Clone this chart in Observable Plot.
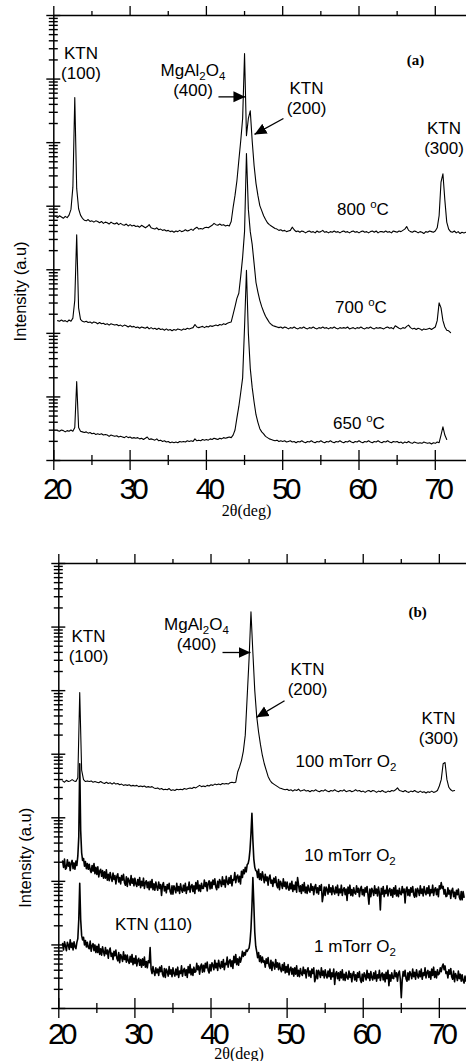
<!DOCTYPE html>
<html><head><meta charset="utf-8">
<script src="https://cdn.jsdelivr.net/npm/d3@7"></script>
<script src="https://cdn.jsdelivr.net/npm/@observablehq/plot@0.6"></script>
<style>
body{margin:0;background:#fff;}
#chart{position:relative;width:466px;height:1061px;overflow:hidden;}
#chart svg{display:block;}
g[aria-label="x-axis tick label"] text{letter-spacing:-4px;}
</style></head><body><div id="chart"></div>
<script>
// ---- scan parameters (2θ steps of the XRD scans) ----
const STEP = 0.25;
const STEP_FINE = 0.125;

// ---- panel (a): log10 intensity ----
const start800 = 20.25;
const logI_800 = [3.84,3.82,3.85,
3.83,3.81,3.84,3.82, 3.86,3.95,4.30,5.71, 4.28,3.96,3.86,3.81, 3.78,3.77,3.79,3.76,
3.77,3.75,3.77,3.76, 3.74,3.76,3.73,3.75, 3.74,3.72,3.75,3.73, 3.72,3.74,3.71,3.73,
3.71,3.70,3.72,3.69, 3.71,3.69,3.70,3.68, 3.69,3.67,3.70,3.68, 3.66,3.68,3.71,3.66,
3.65,3.64,3.66,3.63, 3.64,3.62,3.63,3.61, 3.62,3.60,3.61,3.59, 3.61,3.60,3.62,3.60,
3.61,3.63,3.61,3.62, 3.64,3.62,3.65,3.67, 3.64,3.65,3.64,3.66, 3.67,3.66,3.68,3.70,
3.73,3.71,3.70,3.72, 3.70,3.71,3.69,3.70, 3.69,3.76,3.98,4.17, 4.40,4.72,5.03,5.38,
6.40,5.11,5.38,5.50, 5.03,4.64,4.36,4.17, 4.01,3.93,3.85,3.79, 3.74,3.71,3.69,3.67,
3.65,3.64,3.62,3.63, 3.61,3.62,3.60,3.61, 3.62,3.67,3.63,3.60, 3.61,3.59,3.61,3.60,
3.58,3.60,3.61,3.59, 3.60,3.58,3.61,3.59, 3.60,3.62,3.59,3.60, 3.58,3.60,3.59,3.61,
3.59,3.60,3.58,3.60, 3.61,3.59,3.60,3.58, 3.60,3.61,3.59,3.60, 3.58,3.60,3.61,3.59,
3.60,3.58,3.60,3.61, 3.59,3.61,3.58,3.60, 3.60,3.59,3.61,3.59, 3.60,3.58,3.61,3.60,
3.59,3.61,3.60,3.62, 3.64,3.68,3.62,3.60, 3.59,3.61,3.60,3.58, 3.60,3.59,3.57,3.60,
3.59,3.61,3.60,3.59, 3.61,3.66,3.85,4.38, 4.51,4.10,3.75,3.64, 3.60,3.59,3.61,3.58,
3.60,3.57,3.59,3.58, 3.59];

const start700 = 20.5;
const logI_700 = [2.20,2.19,
2.21,2.19,2.20,2.18, 2.21,2.19,2.24,2.52, 3.55,2.40,2.22,2.19, 2.18,2.19,2.17,2.18,
2.16,2.18,2.17,2.15, 2.17,2.15,2.16,2.14, 2.15,2.13,2.15,2.14, 2.13,2.14,2.12,2.13,
2.11,2.13,2.12,2.10, 2.12,2.10,2.11,2.09, 2.10,2.08,2.10,2.09, 2.08,2.10,2.07,2.09,
2.07,2.08,2.06,2.08, 2.06,2.07,2.05,2.07, 2.05,2.06,2.04,2.06, 2.05,2.07,2.06,2.05,
2.07,2.06,2.08,2.07, 2.08,2.09,2.14,2.10, 2.09,2.10,2.11,2.09, 2.11,2.10,2.12,2.11,
2.12,2.13,2.12,2.14, 2.13,2.15,2.14,2.16, 2.17,2.18,2.30,2.42, 2.55,2.63,2.90,3.20,
3.60,4.83,3.95,3.60, 3.40,3.10,2.80,2.65, 2.52,2.42,2.34,2.27, 2.22,2.17,2.14,2.12,
2.11,2.10,2.09,2.10, 2.08,2.10,2.09,2.07, 2.09,2.08,2.10,2.08, 2.07,2.09,2.08,2.10,
2.08,2.07,2.09,2.08, 2.10,2.08,2.07,2.09, 2.08,2.10,2.08,2.09, 2.07,2.09,2.08,2.10,
2.08,2.07,2.09,2.08, 2.09,2.08,2.10,2.07, 2.08,2.09,2.07,2.09, 2.08,2.10,2.08,2.07,
2.09,2.08,2.10,2.08, 2.07,2.09,2.08,2.09, 2.08,2.07,2.09,2.10, 2.08,2.09,2.07,2.12,
2.10,2.08,2.07,2.09, 2.08,2.11,2.13,2.09, 2.07,2.08,2.06,2.08, 2.07,2.05,2.07,2.06,
2.07,2.08,2.06,2.08, 2.10,2.20,2.48,2.40, 2.20,2.10,2.05,2.04, 2.01];

const start650 = 20.5;
const logI_650 = [0.47,0.46,
0.48,0.47,0.45,0.47, 0.46,0.48,0.46,0.52, 1.24,0.52,0.46,0.45, 0.44,0.45,0.43,0.44,
0.42,0.43,0.41,0.42, 0.41,0.42,0.40,0.41, 0.40,0.38,0.40,0.39, 0.38,0.39,0.37,0.38,
0.37,0.36,0.38,0.36, 0.37,0.35,0.36,0.35, 0.36,0.34,0.35,0.33, 0.35,0.37,0.33,0.34,
0.33,0.32,0.34,0.31, 0.32,0.30,0.31,0.29, 0.30,0.28,0.29,0.28, 0.29,0.28,0.30,0.29,
0.30,0.29,0.31,0.30, 0.31,0.30,0.34,0.31, 0.32,0.31,0.33,0.32, 0.33,0.32,0.34,0.33,
0.35,0.34,0.33,0.35, 0.34,0.36,0.35,0.36, 0.37,0.36,0.40,0.48, 0.67,0.85,1.07,1.30,
2.10,2.99,2.00,1.45, 1.15,0.92,0.72,0.60, 0.50,0.45,0.42,0.38, 0.36,0.34,0.33,0.32,
0.31,0.32,0.30,0.31, 0.30,0.31,0.29,0.30, 0.31,0.29,0.30,0.28, 0.30,0.29,0.31,0.29,
0.28,0.30,0.29,0.31, 0.29,0.28,0.30,0.29, 0.31,0.29,0.28,0.30, 0.29,0.31,0.29,0.28,
0.30,0.29,0.31,0.29, 0.28,0.30,0.29,0.31, 0.29,0.28,0.30,0.29, 0.31,0.29,0.28,0.30,
0.29,0.31,0.29,0.28, 0.30,0.29,0.31,0.29, 0.28,0.30,0.29,0.31, 0.29,0.28,0.30,0.29,
0.30,0.28,0.29,0.27, 0.29,0.28,0.30,0.28, 0.27,0.29,0.28,0.27, 0.28,0.27,0.29,0.28,
0.27,0.28,0.26,0.28, 0.27,0.29,0.28,0.40, 0.53,0.40,0.33];

// ---- panel (b) ----
const start100m = 20.5;
const logI_100m = [3.58,3.56,
3.59,3.57,3.58,3.60, 3.58,3.57,3.63,4.97, 3.75,3.60,3.57,3.58, 3.57,3.58,3.56,3.57,
3.56,3.55,3.57,3.55, 3.54,3.56,3.54,3.55, 3.53,3.55,3.53,3.54, 3.52,3.53,3.51,3.52,
3.51,3.52,3.50,3.51, 3.50,3.51,3.49,3.50, 3.49,3.50,3.48,3.49, 3.48,3.49,3.47,3.46,
3.47,3.45,3.46,3.44, 3.45,3.44,3.46,3.43, 3.44,3.43,3.45,3.44, 3.45,3.44,3.46,3.45,
3.46,3.47,3.46,3.48, 3.47,3.49,3.51,3.49, 3.50,3.49,3.51,3.50, 3.52,3.51,3.53,3.52,
3.53,3.52,3.54,3.53, 3.54,3.53,3.55,3.56, 3.55,3.56,3.72,3.80, 3.90,4.05,4.30,4.90,
5.50,6.24,5.60,5.00, 4.60,4.35,4.15,3.98, 3.85,3.75,3.65,3.59, 3.55,3.53,3.51,3.49,
3.47,3.46,3.45,3.44, 3.45,3.43,3.44,3.42, 3.44,3.43,3.45,3.42, 3.43,3.44,3.42,3.43,
3.41,3.43,3.42,3.44, 3.42,3.41,3.43,3.42, 3.44,3.42,3.41,3.43, 3.42,3.44,3.42,3.41,
3.43,3.42,3.44,3.41, 3.42,3.43,3.41,3.42, 3.44,3.42,3.43,3.41, 3.42,3.40,3.42,3.43,
3.41,3.43,3.42,3.40, 3.42,3.41,3.43,3.41, 3.40,3.42,3.41,3.43, 3.42,3.44,3.47,3.43,
3.42,3.41,3.43,3.41, 3.40,3.42,3.41,3.43, 3.41,3.40,3.42,3.40, 3.41,3.39,3.41,3.40,
3.42,3.40,3.41,3.43, 3.50,3.60,3.85,3.87, 3.60,3.48,3.44,3.42, 3.43];

// 10 mTorr and 1 mTorr scans: noisy, read at the finer step
const start10m = 20.5;
const logI_10m = [2.32,2.22,2.35,2.19,
2.21,2.34,2.24,2.30,2.17,2.29,2.33,2.20, 2.29,2.19,2.32,2.25,2.40,2.70,3.85,2.80,
2.45,2.33,2.36,2.24,2.31,2.20,2.28,2.19, 2.27,2.18,2.14,2.25,2.16,2.28,2.12,2.22,
2.11,2.23,2.07,2.16,2.19,2.08,2.17,2.05, 2.15,2.05,2.18,2.02,2.11,2.01,2.14,2.06,
2.00,2.13,2.03,2.09,1.96,2.08,2.12,1.99, 2.06,1.96,2.09,2.02,2.11,1.98,1.94,2.07,
1.92,2.05,2.01,1.94,2.09,1.97,2.04,1.93, 2.05,1.96,1.92,2.03,1.94,2.06,1.90,2.00,
1.93,2.05,1.89,1.98,2.01,1.90,1.99,1.87, 2.00,1.90,2.03,1.87,1.96,1.86,1.99,1.91,
1.86,1.99,1.89,1.95,1.78,1.94,1.98,1.85, 1.92,1.82,1.95,1.88,1.97,1.84,1.80,1.93,
1.80,1.93,1.89,1.82,1.97,1.85,1.92,1.81, 1.96,1.87,1.83,1.94,1.85,1.97,1.81,1.91,
1.87,1.99,1.83,1.92,1.95,1.84,1.93,1.81, 1.98,1.88,2.01,1.85,1.94,1.84,1.97,1.89,
1.89,2.02,1.92,1.98,1.85,1.97,2.01,1.88, 1.99,1.89,2.02,1.95,2.04,1.91,1.87,2.00,
1.90,2.03,1.99,1.92,2.07,1.95,2.02,1.91, 2.08,1.99,1.95,2.06,1.97,2.09,1.93,2.03,
2.02,2.14,1.98,2.07,2.10,1.99,2.08,1.96, 2.16,2.06,2.18,2.12,2.22,2.15,2.26,2.28,
2.35,2.50,2.75,3.07,2.65,2.35,2.22,2.17, 2.16,2.06,2.19,2.03,2.12,2.02,2.15,2.07,
1.98,2.11,2.01,2.07,1.94,2.06,2.10,1.97, 2.02,1.92,2.05,1.98,2.07,1.94,1.90,2.03,
1.87,2.00,1.96,1.89,2.04,1.92,1.99,1.88, 1.99,1.90,1.86,1.97,1.88,2.00,1.84,1.94,
1.87,1.99,1.83,2.06,1.95,1.84,1.93,1.81, 1.95,1.85,1.98,1.82,1.91,1.81,1.94,1.86,
1.83,1.96,1.86,1.92,1.79,1.91,1.95,1.82, 1.90,1.80,1.93,1.86,1.95,1.68,1.78,1.91,
1.78,1.91,1.87,1.80,1.95,1.83,1.90,1.79, 1.93,1.84,1.80,1.91,1.82,1.94,1.78,1.88,
1.82,1.94,1.78,1.87,1.90,1.79,1.88,1.70, 1.91,1.81,1.94,1.78,1.87,1.77,1.90,1.82,
1.80,1.93,1.83,1.89,1.76,1.88,1.92,1.79, 1.87,1.77,1.90,1.83,1.92,1.79,1.64,1.88,
1.76,1.89,1.85,1.78,1.93,1.81,1.88,1.77, 1.91,1.82,1.55,1.89,1.80,1.92,1.76,1.86,
1.81,1.93,1.77,1.86,1.89,1.78,1.87,1.75, 1.90,1.80,1.93,1.77,1.86,1.76,1.89,1.81,
1.79,1.92,1.82,1.88,1.66,1.87,1.91,1.78, 1.87,1.77,1.90,1.83,1.92,1.79,1.75,1.88,
1.76,1.89,1.85,1.78,1.93,1.81,1.88,1.77, 1.92,1.83,1.79,1.90,1.81,1.93,1.77,1.87,
1.82,1.94,1.78,1.87,1.90,1.79,1.88,1.76, 1.93,1.88,1.98,1.89,1.92,1.80,1.87,1.76,
1.77,1.90,1.80,1.86,1.73,1.85,1.89,1.76, 1.83,1.73,1.86,1.79,1.88,1.75,1.71,1.84,
1.71,1.84,1.75];

const start1m = 20.5;
const logI_1m = [1.02,0.92,1.05,0.98,
0.91,1.04,1.00,0.93,1.08,0.96,1.03,0.92, 1.05,0.97,0.94,1.04,1.10,1.40,1.97,1.40,
1.15,1.08,1.12,1.00,1.07,0.97,1.04,0.96, 0.94,1.06,0.90,0.99,1.02,0.91,1.00,0.88,
0.98,0.88,1.01,0.85,0.94,0.84,0.97,0.89, 0.83,0.96,0.86,0.92,0.79,0.91,0.95,0.82,
0.87,0.77,0.90,0.83,0.92,0.79,0.75,0.88, 0.72,0.85,0.81,0.74,0.89,0.77,0.84,0.73,
0.84,0.75,0.71,0.82,0.73,0.85,0.69,0.79, 0.71,0.83,0.67,0.76,0.79,0.68,0.77,0.65,
0.78,0.68,0.81,0.65,0.74,0.64,0.75,0.72, 0.96,0.62,0.55,0.66,0.58,0.52,0.64,0.56,
0.62,0.52,0.65,0.58,0.67,0.54,0.50,0.63, 0.49,0.62,0.58,0.51,0.66,0.54,0.61,0.50,
0.64,0.55,0.51,0.62,0.53,0.65,0.49,0.59, 0.55,0.67,0.51,0.60,0.63,0.52,0.61,0.49,
0.66,0.56,0.69,0.53,0.62,0.52,0.65,0.57, 0.58,0.71,0.61,0.67,0.54,0.66,0.70,0.57,
0.68,0.58,0.71,0.64,0.73,0.60,0.56,0.69, 0.59,0.72,0.68,0.61,0.76,0.64,0.71,0.60,
0.76,0.67,0.63,0.74,0.65,0.77,0.61,0.71, 0.69,0.81,0.65,0.74,0.77,0.66,0.75,0.63,
0.82,0.72,0.85,0.69,0.78,0.68,0.81,0.73, 0.79,0.90,0.82,0.88,0.84,0.92,0.90,0.93,
0.95,1.05,1.25,1.60,2.06,1.65,1.20,0.98, 0.90,0.80,0.88,0.74,0.83,0.72,0.81,0.73,
0.75,0.65,0.78,0.71,0.80,0.67,0.63,0.76, 0.60,0.73,0.69,0.62,0.77,0.65,0.72,0.61,
0.71,0.62,0.58,0.69,0.60,0.72,0.56,0.66, 0.57,0.69,0.53,0.62,0.65,0.54,0.63,0.51,
0.64,0.54,0.67,0.51,0.60,0.50,0.63,0.55, 0.52,0.65,0.55,0.61,0.48,0.60,0.64,0.51,
0.59,0.49,0.62,0.55,0.64,0.42,0.47,0.60, 0.47,0.60,0.56,0.49,0.64,0.52,0.59,0.48,
0.61,0.52,0.48,0.59,0.50,0.62,0.46,0.56, 0.50,0.62,0.38,0.55,0.58,0.47,0.56,0.44,
0.58,0.48,0.61,0.45,0.54,0.44,0.57,0.49, 0.46,0.59,0.49,0.55,0.42,0.54,0.58,0.45,
0.53,0.43,0.56,0.49,0.58,0.45,0.41,0.54, 0.43,0.56,0.52,0.45,0.60,0.48,0.55,0.44,
0.58,0.49,0.45,0.56,0.47,0.59,0.43,0.53, 0.48,0.60,0.44,0.53,0.56,0.45,0.54,0.42,
0.57,0.47,0.60,0.36,0.53,0.43,0.56,0.48, 0.47,0.60,0.50,0.56,0.43,0.55,0.59,0.46,
0.17,0.45,0.58,0.51,0.60,0.47,0.43,0.56, 0.45,0.58,0.54,0.47,0.62,0.50,0.57,0.46,
0.61,0.52,0.48,0.59,0.50,0.62,0.46,0.56, 0.52,0.64,0.48,0.57,0.60,0.49,0.58,0.46,
0.62,0.52,0.65,0.49,0.58,0.48,0.61,0.53, 0.55,0.64,0.58,0.66,0.70,0.61,0.67,0.55,
0.58,0.48,0.61,0.54,0.63,0.50,0.46,0.59, 0.42,0.55,0.51,0.44,0.59,0.47,0.54,0.43,
0.53,0.44,0.40,0.51,0.43];

// ---- axis ticks ----
const xMajorTicks = [20, 30, 40, 50, 60, 70];
const xMinorTicks = [25, 35, 45, 55, 65];
const decades = [0, 1, 2, 3, 4, 5, 6, 7];
const minorMultipliers = [2, 3, 4, 5, 6, 7, 8, 9];

// ---- annotations (position in 2θ and log10 intensity) ----
const peakLabelsA = [
  {x: 23.56, L: 6.24, lines: ["KTN", "(100)"]},
  {x: 38.24, L: 5.97, lines: ["MgAl_2O_4", "(400)"]},
  {x: 53.12, L: 5.69, lines: ["KTN", "(200)"]},
  {x: 71.14, L: 5.07, lines: ["KTN", "(300)"]}
];
const seriesLabelsA = [
  {x: 60.52, L: 3.95, text: "800 ^oC"},
  {x: 60.26, L: 2.41, text: "700 ^oC"},
  {x: 60.00, L: 0.58, text: "650 ^oC"}
];
const arrowsA = [
  {x1: 41.58, L1: 5.72, x2: 45.12, L2: 5.72},
  {x1: 50.10, L1: 5.38, x2: 46.30, L2: 5.13}
];
const peakLabelsB = [
  {x: 23.90, L: 5.69, lines: ["KTN", "(100)"]},
  {x: 38.09, L: 5.88, lines: ["MgAl_2O_4", "(400)"]},
  {x: 52.68, L: 5.17, lines: ["KTN", "(200)"]},
  {x: 69.90, L: 4.40, lines: ["KTN", "(300)"]}
];
const seriesLabelsB = [
  {x: 57.74, L: 3.88, text: "100 mTorr O_2"},
  {x: 58.27, L: 2.41, text: "10 mTorr O_2"},
  {x: 58.92, L: 0.97, text: "1 mTorr O_2"},
  {x: 32.44, L: 1.32, text: "KTN (110)"}
];
const arrowsB = [
  {x1: 41.51, L1: 5.60, x2: 45.19, L2: 5.60},
  {x1: 49.66, L1: 4.84, x2: 45.98, L2: 4.58}
];

// ---- helpers ----
const yMajor = decades.map(n => 10 ** n);
const yMinor = decades.slice(0, -1).flatMap(n => minorMultipliers.map(k => k * 10 ** n));
const NS = "http://www.w3.org/2000/svg";
const SANS = "Liberation Sans, Arial, Helvetica, sans-serif";
const SERIF = "Liberation Serif, Times New Roman, serif";

function filledHead(color, context) {
  const doc = (context && context.document) || document;
  const m = doc.createElementNS(NS, "marker");
  m.setAttribute("viewBox", "-12 -6 12 12");
  m.setAttribute("markerWidth", 12);
  m.setAttribute("markerHeight", 12);
  m.setAttribute("markerUnits", "userSpaceOnUse");
  m.setAttribute("orient", "auto");
  const p = doc.createElementNS(NS, "path");
  p.setAttribute("d", "M-12,-5.5L0,0L-12,5.5Z");
  p.setAttribute("fill", "black");
  p.setAttribute("stroke", "none");
  m.appendChild(p);
  return m;
}

function richText(svg) {
  svg.querySelectorAll("text").forEach(t => {
    const leaves = t.children.length ? [...t.querySelectorAll("tspan")] : [t];
    leaves.forEach(el => {
      const s = el.textContent;
      if (!/[_^]/.test(s)) return;
      el.textContent = "";
      let shift = 0;
      for (const p of s.split(/([_^].)/).filter(Boolean)) {
        const sp = document.createElementNS(NS, "tspan");
        let target = 0, txt = p;
        if (p.length === 2 && p[0] === "_") { target = 4; txt = p[1]; sp.setAttribute("font-size", 11.5); }
        else if (p.length === 2 && p[0] === "^") { target = -7; txt = p[1]; sp.setAttribute("font-size", 11.5); }
        if (target !== shift) sp.setAttribute("dy", target - shift);
        shift = target;
        sp.textContent = txt;
        el.appendChild(sp);
      }
    });
  });
}

function panel(cfg) {
  const rows = cfg.traces.flatMap(t => t.values.map((L, i) => ({id: t.id, x: t.start + t.step * i, y: 10 ** L})));
  const blank = () => "";
  const tickOpts = {tickFormat: blank, label: null, stroke: "black"};
  const pl = d => 10 ** d.L;
  const svg = Plot.plot({
    width: 466, height: cfg.height,
    marginLeft: cfg.marginLeft, marginRight: 0, marginTop: cfg.marginTop, marginBottom: cfg.marginBottom,
    style: {fontFamily: SANS, fontSize: "17px", background: "white", color: "black", overflow: "visible"},
    x: {domain: cfg.xDomain},
    y: {type: "log", domain: [1, 1e7], axis: null},
    marks: [
      // y-axis ticks (log decades and minor ticks), drawn across the left axis line
      Plot.ruleY(yMajor, {x1: 20, x2: 20, insetLeft: -7, insetRight: -7, stroke: "black", strokeWidth: 1.4}),
      Plot.ruleY(yMinor, {x1: 20, x2: 20, insetLeft: -4.5, insetRight: -4.5, stroke: "black", strokeWidth: 1.4}),
      Plot.axisX({...tickOpts, anchor: "top", ticks: xMajorTicks, tickSize: 10, strokeWidth: 1.3}),
      Plot.axisX({...tickOpts, anchor: "top", ticks: xMinorTicks, tickSize: 5, strokeWidth: 1.3}),
      Plot.axisX({...tickOpts, anchor: "bottom", ticks: xMajorTicks, tickSize: 20, dy: -10, strokeWidth: 1.3}),
      Plot.axisX({...tickOpts, anchor: "bottom", ticks: xMinorTicks, tickSize: 10, dy: -5, strokeWidth: 1.3}),
      Plot.axisX({anchor: "bottom", ticks: xMajorTicks, tickFormat: d => String(d), label: null, tickSize: 0,
        tickPadding: cfg.tickPad, fontSize: 30, fontFamily: SANS, dx: 2, fill: "black"}),
      Plot.ruleY([1, 1e7], {stroke: "black", strokeWidth: 1.5}),
      Plot.ruleX([20], {stroke: "black", strokeWidth: 1.5}),
      ...cfg.traces.map(t => Plot.line(rows.filter(r => r.id === t.id), {x: "x", y: "y", stroke: "black", strokeWidth: t.width})),
      Plot.link(cfg.arrows, {x1: "x1", y1: d => 10 ** d.L1, x2: "x2", y2: d => 10 ** d.L2,
        stroke: "black", strokeWidth: 1.3, markerEnd: filledHead}),
      Plot.text(cfg.peakLabels, {x: "x", y: pl, text: d => d.lines[0], dy: -10, fill: "black"}),
      Plot.text(cfg.peakLabels, {x: "x", y: pl, text: d => d.lines[1], dy: 10, fill: "black"}),
      Plot.text(cfg.seriesLabels, {x: "x", y: pl, text: "text", fill: "black"}),
      Plot.text([cfg.tag], {x: "x", y: pl, text: "text", fontFamily: SERIF, fontWeight: "bold", fontSize: 15, fill: "black"}),
      Plot.text([cfg.xTitle], {x: "x", y: pl, text: "text", fontFamily: SERIF, fontSize: 16, fill: "black"}),
      Plot.text([cfg.yTitle], {x: "x", y: pl, text: "text", rotate: -90, dx: -33, fontSize: 16.5, fill: "black"})
    ]
  });
  richText(svg);
  return svg;
}

const chart = document.getElementById("chart");
chart.appendChild(panel({
  height: 530, marginTop: 15, marginBottom: 70, marginLeft: 53.3, tickPad: 17,
  xDomain: [20, 74.09],
  traces: [
    {id: "800", start: start800, step: STEP, width: 1.1, values: logI_800},
    {id: "700", start: start700, step: STEP, width: 1.1, values: logI_700},
    {id: "650", start: start650, step: STEP, width: 1.1, values: logI_650}
  ],
  peakLabels: peakLabelsA, seriesLabels: seriesLabelsA, arrows: arrowsA,
  tag: {x: 67.4, L: 6.29, text: "(a)"},
  xTitle: {x: 45.26, L: -0.786, text: "2θ(deg)"},
  yTitle: {x: 20, L: 2.66, text: "Intensity (a.u)"}
}));
chart.appendChild(panel({
  height: 531, marginTop: 33, marginBottom: 53, marginLeft: 58.3, tickPad: 14,
  xDomain: [20, 73.57],
  traces: [
    {id: "100m", start: start100m, step: STEP, width: 1.1, values: logI_100m},
    {id: "10m", start: start10m, step: STEP_FINE, width: 1.6, values: logI_10m},
    {id: "1m", start: start1m, step: STEP_FINE, width: 1.6, values: logI_1m}
  ],
  peakLabels: peakLabelsB, seriesLabels: seriesLabelsB, arrows: arrowsB,
  tag: {x: 67.14, L: 6.23, text: "(b)"},
  xTitle: {x: 43.68, L: -0.71, text: "2θ(deg)"},
  yTitle: {x: 20, L: 2.37, text: "Intensity (a.u)"}
}));
</script></body></html>
